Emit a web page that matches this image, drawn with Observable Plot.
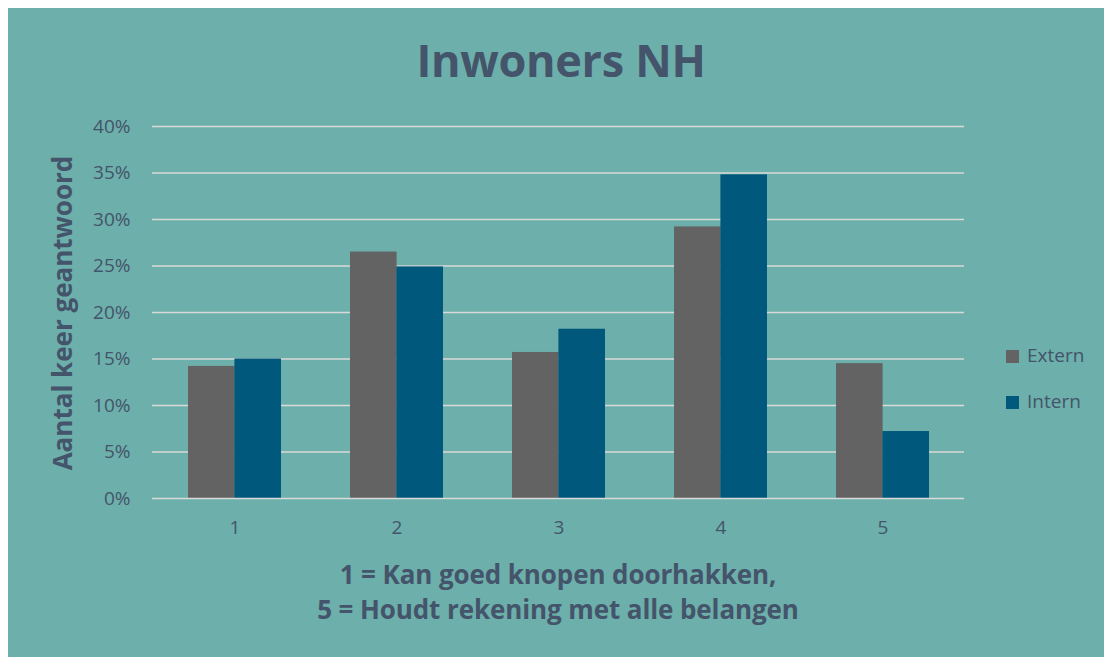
<!DOCTYPE html>
<html>
<head>
<meta charset="utf-8">
<script src="https://cdn.jsdelivr.net/npm/d3@7"></script>
<script src="https://cdn.jsdelivr.net/npm/@observablehq/plot@0.6"></script>
<style>
  html, body { margin: 0; padding: 0; background: #ffffff; }
  #wrap { position: relative; width: 1104px; height: 657px; background: #ffffff; overflow: hidden; font-family: "Open Sans", sans-serif; color: #44546A; }
  #panel { position: absolute; left: 8px; top: 8px; right: 0; bottom: 0; background: #6DAFAA; }
  #chart { position: absolute; left: 0; top: 0; }
  .title { position: absolute; left: 0; width: 1122px; top: 29px; text-align: center; font-size: 45px; font-weight: 700; letter-spacing: -0.3px; }
  .ylabel { position: absolute; left: 62px; top: 313px; transform: translate(-50%, -50%) rotate(-90deg); white-space: nowrap; font-size: 26px; font-weight: 700; }
  .xlabel { position: absolute; left: 158px; width: 800px; top: 557px; text-align: center; font-size: 26px; font-weight: 700; line-height: 35px; letter-spacing: -0.1px; }
  .legend { position: absolute; left: 1006px; font-size: 19px; }
  .legend .sw { display: inline-block; width: 13px; height: 13px; margin-right: 8px; vertical-align: -1px; }
</style>
</head>
<body>
<div id="wrap">
  <div id="panel"></div>
  <div id="chart"></div>
  <div class="title">Inwoners NH</div>
  <div class="ylabel">Aantal keer geantwoord</div>
  <div class="xlabel">1 = Kan goed knopen doorhakken,<br>5 = Houdt rekening met alle belangen</div>
  <div class="legend" id="lg0" style="top:342px"></div>
  <div class="legend" id="lg1" style="top:388px"></div>
</div>
<script>
const categories = ["1", "2", "3", "4", "5"];
const seriesNames = ["Extern", "Intern"];
const externValues = [0.142, 0.265, 0.157, 0.292, 0.145];
const internValues = [0.150, 0.249, 0.182, 0.348, 0.072];
const yTicks = [0, 0.05, 0.10, 0.15, 0.20, 0.25, 0.30, 0.35, 0.40];
const colors = ["#636363", "#00587C"];

const extern = categories.map((c, i) => ({cat: c, value: externValues[i]}));
const intern = categories.map((c, i) => ({cat: c, value: internValues[i]}));

const chart = Plot.plot({
  width: 1104,
  height: 657,
  marginLeft: 152,
  marginRight: 140,
  marginTop: 126,
  marginBottom: 159,
  style: {background: "transparent", fontFamily: "Open Sans, sans-serif", color: "#44546A", fontSize: "19px"},
  x: {domain: categories, paddingInner: 0.428, paddingOuter: 0.214, label: null, tickSize: 0, tickPadding: 22},
  y: {domain: [0, 0.4], ticks: yTicks, tickFormat: d3.format(".0%"), label: null, tickSize: 0, tickPadding: 22},
  marks: [
    Plot.ruleY(yTicks.slice(1), {stroke: "#D9D9D9", strokeWidth: 1.5}),
    Plot.barY(extern, {x: "cat", y: "value", fill: colors[0], insetRight: 46.4}),
    Plot.barY(intern, {x: "cat", y: "value", fill: colors[1], insetLeft: 46.4}),
    Plot.ruleY([0], {stroke: "#D9D9D9", strokeWidth: 1.5})
  ]
});
document.getElementById("chart").appendChild(chart);

seriesNames.forEach((n, i) => {
  const el = document.getElementById("lg" + i);
  el.innerHTML = `<span class="sw" style="background:${colors[i]}"></span>${n}`;
});
</script>
</body>
</html>
